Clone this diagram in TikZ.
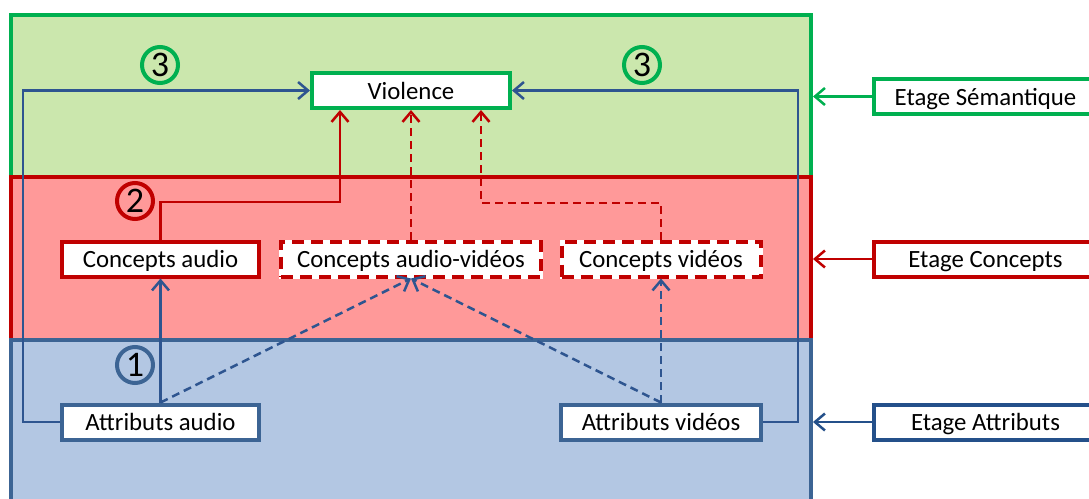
\documentclass[tikz,border=0pt]{standalone}
\usepackage{fontspec}
\setmainfont{Carlito}
\usetikzlibrary{arrows.meta}
\definecolor{gfill}{HTML}{CBE7AD}
\definecolor{gline}{HTML}{00B050}
\definecolor{rfill}{HTML}{FF9999}
\definecolor{rline}{HTML}{C00000}
\definecolor{bfill}{HTML}{B3C7E3}
\definecolor{bline}{HTML}{3C6494}
\definecolor{bconn}{HTML}{2E5590}
\definecolor{bdark}{HTML}{24508A}
\begin{document}
\begin{tikzpicture}[x=1pt,y=-1pt,
  txt/.style={font=\fontsize{24.8}{28}\selectfont, text height=17pt, text depth=0pt},
  stage/.style={line width=4pt, inner sep=0pt, minimum width=800pt},
  box/.style={txt, fill=white, line width=4pt, inner sep=0pt, minimum height=35pt},
  dbox/.style={box, preaction={draw=white, line width=4pt, solid}, draw=rline, dash pattern=on 12pt off 7pt},
  num/.style={circle, line width=4pt, minimum size=36pt, inner sep=0pt, font=\fontsize{36}{36}\selectfont},
  tipa/.style={-{Straight Barb[length=10pt,width=17pt]}},
  conn/.style={line width=2.5pt, tipa},
  dconn/.style={conn, dash pattern=on 8pt off 5pt},
]
\useasboundingbox (0,0) rectangle (1089,498);
\begin{scope}
\clip (0,0) rectangle (1089,498);
% stages
\node[stage, draw=gline, fill=gfill, minimum height=162pt] (sem) at (411,96) {};
\node[stage, draw=rline, fill=rfill, minimum height=163pt] (con) at (411,258.5) {};
\node[stage, draw=bline, fill=bfill, minimum height=170pt] (att) at (411,425) {};
% boxes
\node[box, draw=gline, minimum width=198pt] (viol) at (411,90.5) {Violence};
\node[box, draw=rline, minimum width=197pt] (ca) at (160.5,259) {Concepts audio};
\node[dbox, minimum width=260pt] (cav) at (411,259) {Concepts audio-vidéos};
\node[dbox, minimum width=199pt] (cv) at (661,259) {Concepts vidéos};
\node[box, draw=bline, minimum width=197pt] (aa) at (160.5,422) {Attributs audio};
\node[box, draw=bline, minimum width=200pt] (av) at (661,422) {Attributs vidéos};
% stage labels
\node[box, draw=gline, minimum width=223pt] (esem) at (985.5,96.5) {Etage Sémantique};
\node[box, draw=rline, minimum width=223pt] (econ) at (985.5,259) {Etage Concepts};
\node[box, draw=bdark, minimum width=223pt] (eatt) at (985.5,422) {Etage Attributs};
\draw[conn, gline] (esem.west) -- (esem.west -| sem.east);
\draw[conn, rline] (econ.west) -- (econ.west -| con.east);
\draw[conn, bdark] (eatt.west) -- (eatt.west -| att.east);
% numbers
\node[num, draw=gline] (n3a) at (160,65) {3};
\node[num, draw=gline] (n3b) at (642,65) {3};
\node[num, draw=rline] (n2) at (135,201) {2};
\node[num, draw=bline] (n1) at (135,365) {1};
% connectors
\coordinate (lx) at (23,0);
\coordinate (rx) at (798,0);
\coordinate (r1) at (340,202);
\coordinate (r2) at (481,203);
\draw[conn, bconn] (aa.west) -- (aa.west -| lx) |- (viol.west);
\draw[conn, bconn] (av.east) -- (av.east -| rx) |- (viol.east);
\draw[conn, rline] (ca.north) |- (r1) -- (r1 |- viol.south);
\draw[dconn, rline] (cav.north) -- (cav.north |- viol.south);
\draw[dconn, rline] (cv.north) |- (r2) -- (r2 |- viol.south);
\draw[conn, bconn] (aa.north) -- (ca.south);
\draw[dconn, bconn] (aa.north) -- (cav.south);
\draw[dconn, bconn] (av.north) -- (cav.south);
\draw[dconn, bconn] (av.north) -- (cv.south);
\end{scope}
\end{tikzpicture}
\end{document}
